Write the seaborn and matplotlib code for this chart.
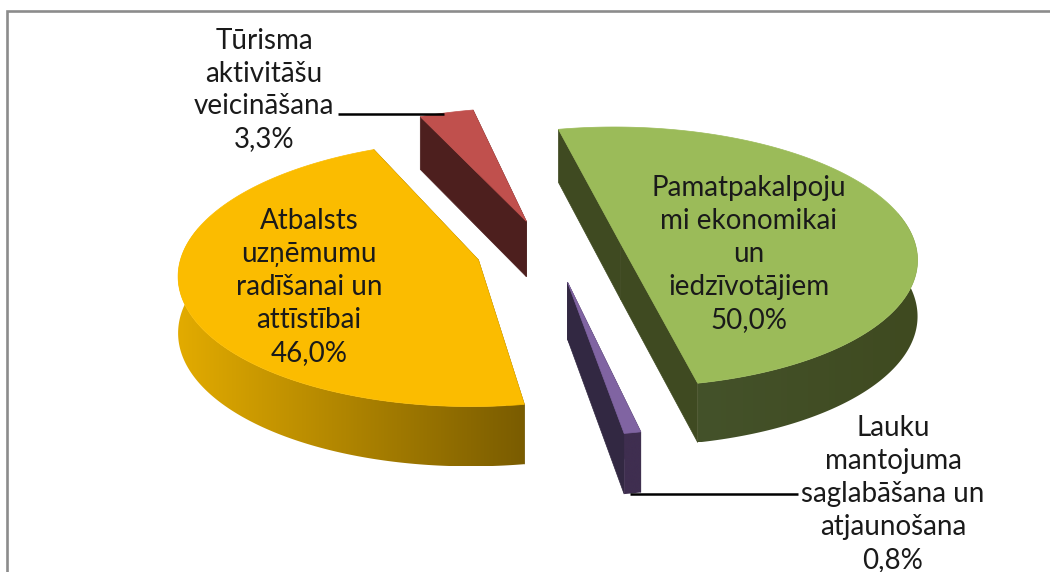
import numpy as np
import matplotlib
matplotlib.use('Agg')
import matplotlib.pyplot as plt
from matplotlib.colors import ListedColormap
from matplotlib.patches import Polygon
import seaborn as sns

# slices, clockwise from the start angle
labels = ['Pamatpakalpoju\nmi ekonomikai\nun\niedzīvotājiem',
          'Lauku\nmantojuma\nsaglabāšana un\natjaunošana',
          'Atbalsts\nuzņēmumu\nradīšanai un\nattīstībai',
          'Tūrisma\naktivitāšu\nveicināšana']
values = [50.0, 0.8, 46.0, 3.3]

top_colors = ['#9bbb59', '#8064a2', '#fbbc00', '#c0504d']
cut_colors = ['#3f4a21', '#322842', '#6b5000', '#4d1f1e']
rim_colors = [['#44522a', '#3f4a20'], ['#3f2e50', '#3f2e50'], ['#e2ab00', '#7a5c00'], ['#4d1f1e', '#4d1f1e']]
explode = [0.26, 0.29, 0.24, 0.22]
nudge = [(0, 3), (5, -4), (1, 3), (0, 0)]
label_pos = [(749, 254), (893, 494), (309, 287), (264, 90)]

start_angle = 102
vx, vy = 546, 248    # vanishing point of the tilted pie
rx, ry = 296, 130
persp = 0.1

sns.set_theme(style='white')
plt.rcParams['font.family'] = ['Lato', 'DejaVu Sans']


def project(x, y):
    s = 1 / (1 + persp * y / ry)
    return vx + x * s, vy - y * s, 24 + 32 * s


fig = plt.figure(figsize=(10.5, 5.72), dpi=100)
ax = fig.add_axes([0, 0, 1, 1])
ax.axis('off')

# frame of the chart area, open to the right and bottom
ax.plot([6.5, 6.5, 1050], [572, 11, 11], color='#8c8c8c', lw=1.9, solid_joinstyle='miter')

angle = start_angle
for i, val in enumerate(values):
    sweep = val / sum(values) * 360
    a0, a1 = np.radians(angle), np.radians(angle - sweep)
    mid = (a0 + a1) / 2
    angle -= sweep

    cx = explode[i] * rx * np.cos(mid)
    cy = explode[i] * ry * np.sin(mid)
    t = np.linspace(a0, a1, max(int(sweep * 2), 6))
    px, py, pdep = project(cx + rx * np.cos(t), cy + ry * np.sin(t))
    ox, oy, odep = project(cx, cy)
    px, ox = px + nudge[i][0], ox + nudge[i][0]
    py, oy = py + nudge[i][1], oy + nudge[i][1]

    # the two cut faces
    for j in [0, -1]:
        ax.fill([ox, px[j], px[j], ox], [oy, py[j], py[j] + pdep[j], oy + odep],
                color=cut_colors[i], lw=0.5, zorder=3 * i + 1)

    # outer rim with a left to right shade, only the part that faces the viewer
    front = np.sin(t) < 0.25
    if front.sum() > 1:
        fx, fy, fd = px[front], py[front], pdep[front]
        rim = Polygon(np.c_[np.r_[fx, fx[::-1]], np.r_[fy, (fy + fd)[::-1]]], transform=ax.transData)
        shades = ListedColormap(sns.blend_palette(rim_colors[i], 128))
        img = ax.imshow(np.linspace(0, 1, 128)[None, :], cmap=shades, aspect='auto', zorder=3 * i + 2,
                        extent=[fx.min(), fx.max(), (fy + fd).max(), fy.min()])
        img.set_clip_path(rim)

    # top surface
    ax.fill(np.r_[ox, px], np.r_[oy, py], color=top_colors[i], lw=0.5, zorder=3 * i + 3)

# leader lines
ax.plot([338, 444], [114, 114], color='black', lw=1.8, solid_capstyle='butt', zorder=20)
ax.plot([630, 798], [494, 494], color='black', lw=1.8, solid_capstyle='butt', zorder=20)

for lab, val, pos in zip(labels, values, label_pos):
    txt = lab + '\n' + f'{val:.1f}%'.replace('.', ',')
    ax.text(pos[0], pos[1], txt, ha='center', va='center', fontsize=20,
            color='#1a1a1a', linespacing=1.33, zorder=21)

ax.set_xlim(0, 1050)
ax.set_ylim(572, 0)
fig.savefig('out.png', dpi=100)
